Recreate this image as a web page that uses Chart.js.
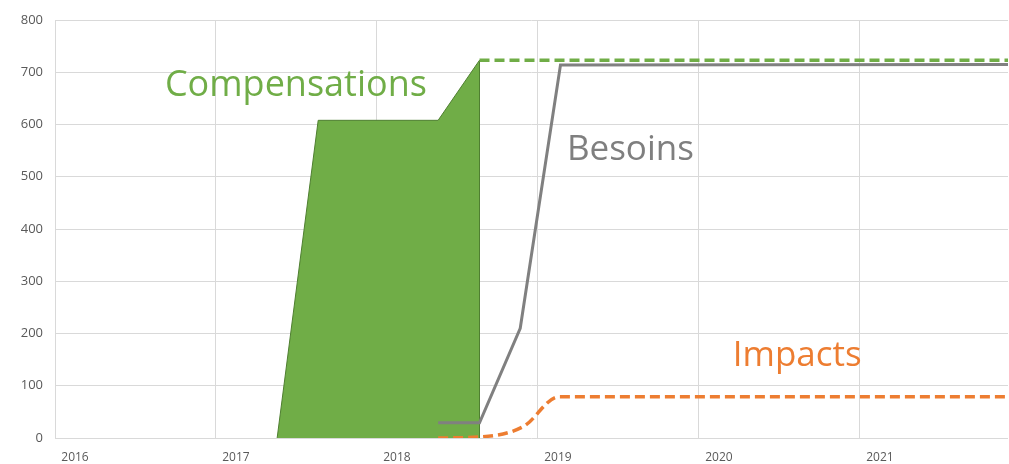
<!DOCTYPE html>
<html>
<head>
<meta charset="utf-8">
<script src="https://cdn.jsdelivr.net/npm/chart.js@4/dist/chart.umd.min.js"></script>
<style>
html,body{margin:0;padding:0;background:#fff;}
#wrap{width:1009px;height:464px;}
</style>
</head>
<body>
<div id="wrap"><canvas id="chart" width="1009" height="464"></canvas></div>
<script>
// ---- data ----
const yearTicks = [2016, 2017, 2018, 2019, 2020, 2021];

const compX = [2017.38, 2017.635, 2018.38, 2018.637, 2018.637];
const compY = [0, 608, 608, 723, 0];

const compPlanX = [2018.637, 2021.92];
const compPlanY = [723, 723];

const besoinsX = [2018.38, 2018.637, 2018.89, 2019.14, 2021.92];
const besoinsY = [29, 29, 210, 714, 715];

const impactsX = [2018.38, 2018.637, 2018.91, 2019.13, 2021.92];
const impactsY = [0, 2, 22, 79, 79];

const pts = (xs, ys) => xs.map((x, i) => ({x: x, y: ys[i]}));

// labels placed in data coordinates
const notes = [
  {text: "Compensations", x: 2016.683, y: 654, color: "#70ad47", size: 36},
  {text: "Besoins", x: 2019.18, y: 533, color: "#7f7f7f", size: 35},
  {text: "Impacts", x: 2020.21, y: 138, color: "#ed7d31", size: 35}
];

const notePlugin = {
  id: "notes",
  afterDatasetsDraw(chart){
    const ctx = chart.ctx;
    const xs = chart.scales.x, ys = chart.scales.y;
    ctx.save();
    ctx.textAlign = "left";
    ctx.textBaseline = "alphabetic";
    notes.forEach(n => {
      ctx.font = n.size + "px 'Open Sans'";
      ctx.fillStyle = n.color;
      ctx.fillText(n.text, xs.getPixelForValue(n.x), ys.getPixelForValue(n.y));
    });
    ctx.restore();
  }
};

new Chart(document.getElementById("chart"), {
  type: "line",
  data: {
    datasets: [
      {
        label: "Impacts",
        data: pts(impactsX, impactsY),
        borderColor: "#ed7d31",
        borderWidth: 3.5,
        borderDash: [10, 5],
        cubicInterpolationMode: "monotone",
        pointRadius: 0,
        fill: false,
        order: 1
      },
      {
        label: "Besoins",
        data: pts(besoinsX, besoinsY),
        borderColor: "#808080",
        borderWidth: 3,
        pointRadius: 0,
        fill: false,
        order: 2
      },
      {
        label: "Compensations prévues",
        data: pts(compPlanX, compPlanY),
        borderColor: "#70ad47",
        borderWidth: 3.5,
        borderDash: [10, 5],
        pointRadius: 0,
        fill: false,
        order: 3
      },
      {
        label: "Compensations",
        data: pts(compX, compY),
        borderColor: "#4f7f31",
        borderWidth: 1,
        backgroundColor: "#70ad47",
        pointRadius: 0,
        fill: "origin",
        order: 4
      }
    ]
  },
  options: {
    responsive: false,
    animation: false,
    layout: {padding: {top: 20, right: 1, left: 0, bottom: 0}},
    plugins: {
      legend: {display: false},
      tooltip: {enabled: false}
    },
    scales: {
      x: {
        type: "linear",
        min: 2016,
        max: 2021.92,
        afterBuildTicks: s => { s.ticks = yearTicks.map(v => ({value: v})); },
        ticks: {
          includeBounds: false,
          labelOffset: 20,
          padding: 12,
          color: "#595959",
          font: {family: "'Open Sans'", size: 12},
          maxRotation: 0,
          callback: v => String(v)
        },
        grid: {color: "#d9d9d9", drawTicks: false},
        border: {display: false},
        afterFit: s => { s.height = 26; }
      },
      y: {
        min: 0,
        max: 800,
        ticks: {
          stepSize: 100,
          padding: 12,
          color: "#595959",
          font: {family: "'Open Sans'", size: 13}
        },
        grid: {color: "#d9d9d9", drawTicks: false},
        border: {display: false},
        afterFit: s => { s.width = 55; }
      }
    }
  },
  plugins: [notePlugin]
});
</script>
</body>
</html>
